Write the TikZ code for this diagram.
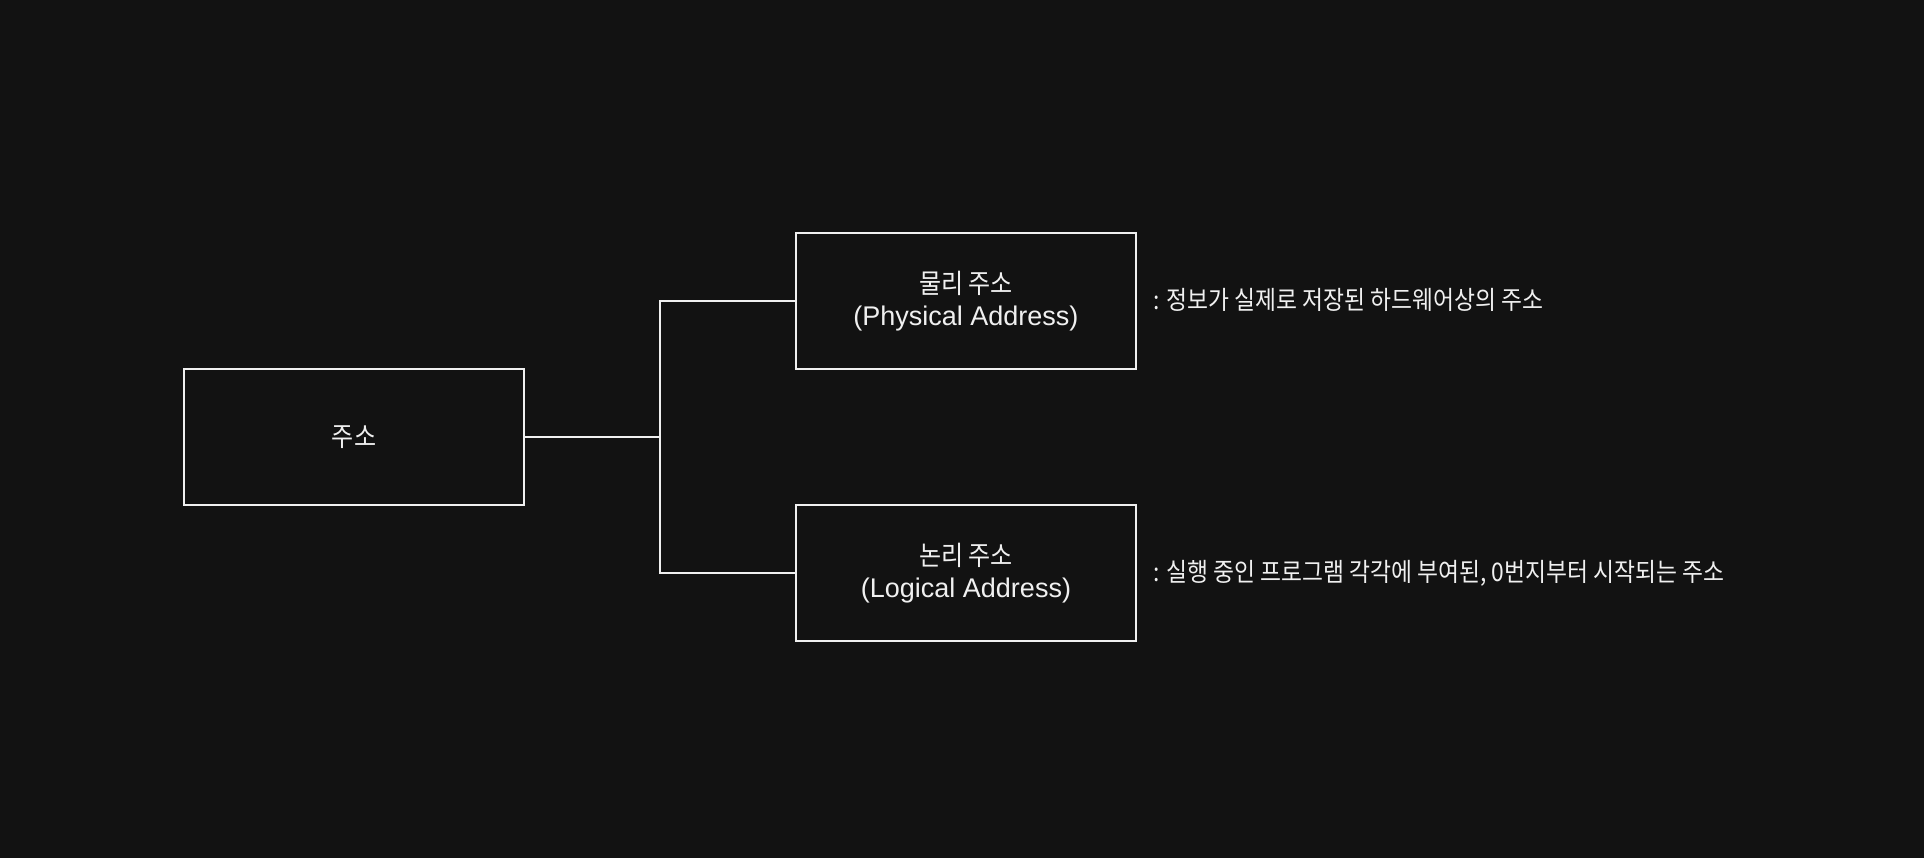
\documentclass[tikz,border=0pt]{standalone}
\usepackage{fontspec}
\setmainfont{Liberation Sans}
\newfontfamily\kr[FakeStretch=0.89]{Noto Sans CJK KR}
\definecolor{bg}{HTML}{121212}
\definecolor{fg}{HTML}{F0F0F0}
\begin{document}
\begin{tikzpicture}[x=0.5pt,y=-0.5pt,
  box/.style={draw=fg, line width=1pt, minimum width=170pt, minimum height=68pt, inner sep=0pt, text=fg, align=center, font=\fontsize{13.5}{16}\selectfont},
  desc/.style={anchor=west, inner sep=0pt, text=fg, font=\kr\fontsize{12.8}{15}\selectfont},
  link/.style={draw=fg, line width=1pt}]
\fill[bg] (0,0) rectangle (1924,858);
\useasboundingbox (0,0) rectangle (1924,858);
\node[box] (root) at (354,437) {{\kr 주소}};
\node[box] (phys) at (966,301) {{\kr 물리 주소}\\(Physical Address)};
\node[box] (logi) at (966,573) {{\kr 논리 주소}\\(Logical Address)};
\coordinate (split) at (660,437);
\draw[link] (root.east) -- (split);
\draw[link] (split) |- (phys.west);
\draw[link] (split) |- (logi.west);
\node[desc] (d1) at (1153,300) {: 정보가 실제로 저장된 하드웨어상의 주소};
\node[desc] (d2) at (1153,573) {: 실행 중인 프로그램 각각에 부여된, 0번지부터 시작되는 주소};
\end{tikzpicture}
\end{document}
